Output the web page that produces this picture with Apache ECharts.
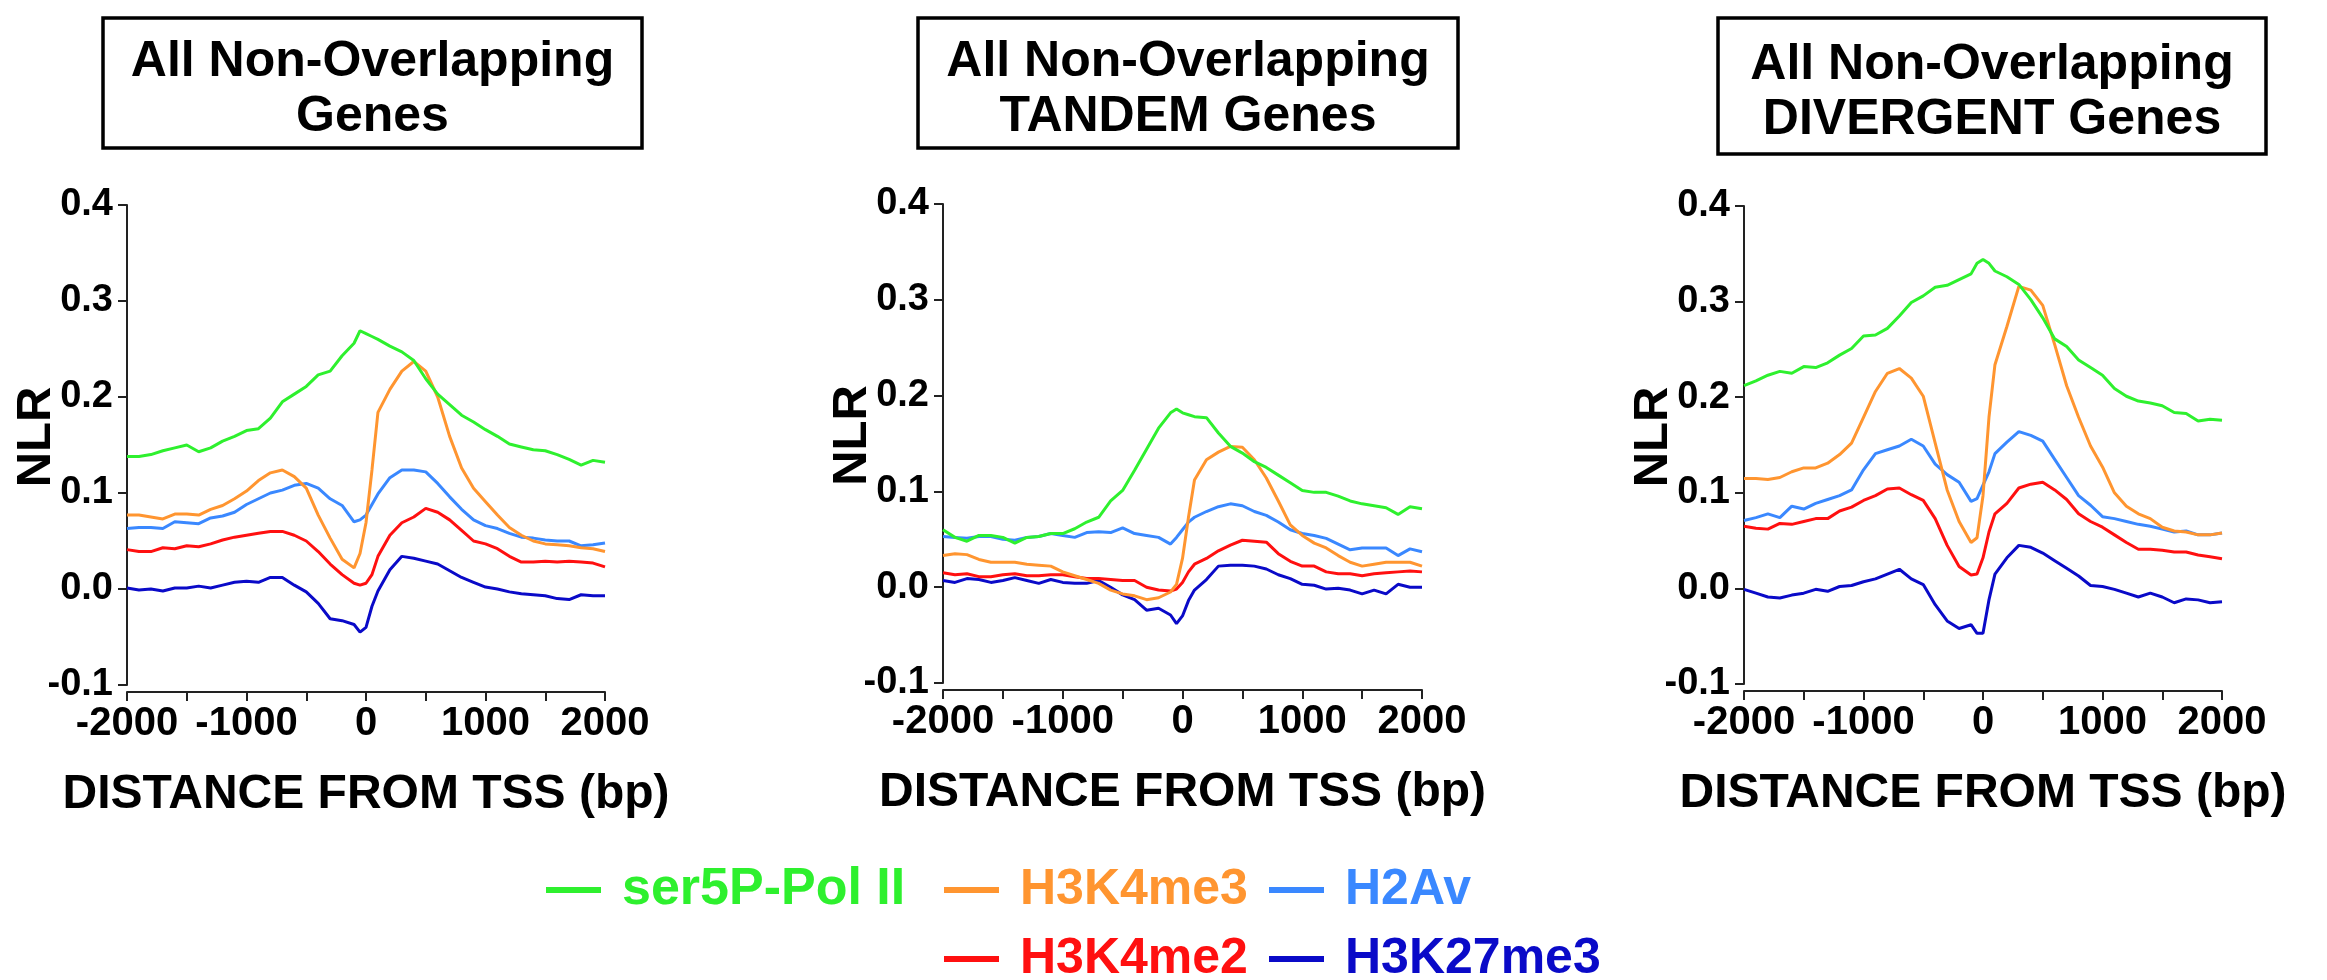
<!DOCTYPE html>
<html>
<head>
<meta charset="utf-8">
<script src="https://cdn.jsdelivr.net/npm/echarts@6/dist/echarts.min.js"></script>
<style>
  html, body { margin: 0; padding: 0; background: #fff; }
  #main { width: 2327px; height: 980px; }
</style>
</head>
<body>
<div id="main"></div>
<script>
// distance from TSS (bp), shared by all curves
const X = [-2000, -1900, -1800, -1700, -1600, -1500, -1400, -1300, -1200, -1100,
  -1000, -900, -800, -700, -600, -500, -400, -300, -200, -100, -50, 0, 50,
  100, 200, 300, 400, 500, 600, 700, 800, 900, 1000, 1100, 1200, 1300, 1400,
  1500, 1600, 1700, 1800, 1900, 2000];

const NAMES = ['ser5P-Pol II', 'H3K4me3', 'H2Av', 'H3K4me2', 'H3K27me3'];
const COLORS = ['#2ef02e', '#ff9530', '#3a88ff', '#ff1010', '#0a0ac8'];
const PANEL_TITLES = [
  'All Non-Overlapping\nGenes',
  'All Non-Overlapping\nTANDEM Genes',
  'All Non-Overlapping\nDIVERGENT Genes'
];
const X_LABELS = [-2000, -1000, 0, 1000, 2000];

// --- All non-overlapping genes
const allPol2 = [0.138, 0.138, 0.140, 0.144, 0.147, 0.150, 0.143, 0.147, 0.154, 0.159,
  0.165, 0.167, 0.178, 0.195, 0.203, 0.211, 0.223, 0.227, 0.243, 0.256, 0.269, 0.266, 0.263,
  0.260, 0.253, 0.247, 0.238, 0.219, 0.203, 0.192, 0.181, 0.174, 0.166, 0.159, 0.151, 0.148, 0.145,
  0.144, 0.140, 0.135, 0.129, 0.134, 0.132];
const allMe3 = [0.077, 0.077, 0.075, 0.073, 0.078, 0.078, 0.077, 0.083, 0.087, 0.094,
  0.102, 0.113, 0.121, 0.124, 0.117, 0.105, 0.077, 0.053, 0.031, 0.022, 0.037, 0.069, 0.124,
  0.184, 0.208, 0.227, 0.237, 0.227, 0.200, 0.159, 0.126, 0.105, 0.091, 0.077, 0.064, 0.056, 0.050,
  0.047, 0.046, 0.045, 0.043, 0.042, 0.039];
const allH2Av = [0.063, 0.064, 0.064, 0.063, 0.070, 0.069, 0.068, 0.074, 0.076, 0.080,
  0.088, 0.094, 0.100, 0.103, 0.108, 0.110, 0.105, 0.094, 0.087, 0.070, 0.072, 0.077, 0.088,
  0.099, 0.116, 0.124, 0.124, 0.122, 0.110, 0.096, 0.083, 0.072, 0.066, 0.063, 0.058, 0.054, 0.053,
  0.051, 0.050, 0.050, 0.045, 0.046, 0.048];
const allMe2 = [0.041, 0.039, 0.039, 0.043, 0.042, 0.045, 0.044, 0.047, 0.051, 0.054,
  0.056, 0.058, 0.060, 0.060, 0.056, 0.050, 0.039, 0.026, 0.015, 0.006, 0.004, 0.006, 0.015,
  0.034, 0.056, 0.069, 0.075, 0.084, 0.080, 0.072, 0.061, 0.050, 0.047, 0.042, 0.034, 0.028, 0.028,
  0.029, 0.028, 0.029, 0.028, 0.027, 0.023];
const allK27 = [0.001, -0.001, 0.000, -0.002, 0.001, 0.001, 0.003, 0.001, 0.004, 0.007,
  0.008, 0.007, 0.012, 0.012, 0.004, -0.003, -0.015, -0.031, -0.033, -0.037, -0.045, -0.040, -0.018,
  -0.002, 0.020, 0.034, 0.032, 0.029, 0.026, 0.019, 0.012, 0.007, 0.002, 0.000, -0.003, -0.005, -0.006,
  -0.007, -0.010, -0.011, -0.006, -0.007, -0.007];

// --- tandem genes
const tanPol2 = [0.060, 0.052, 0.048, 0.054, 0.054, 0.052, 0.046, 0.052, 0.053, 0.056,
  0.056, 0.061, 0.068, 0.073, 0.090, 0.101, 0.122, 0.144, 0.166, 0.182, 0.186, 0.182, 0.180,
  0.178, 0.177, 0.161, 0.147, 0.140, 0.131, 0.125, 0.117, 0.109, 0.101, 0.099, 0.099, 0.095, 0.090,
  0.087, 0.085, 0.083, 0.076, 0.084, 0.082];
const tanMe3 = [0.033, 0.035, 0.034, 0.029, 0.026, 0.026, 0.026, 0.024, 0.023, 0.022,
  0.016, 0.012, 0.008, 0.004, -0.003, -0.007, -0.009, -0.013, -0.011, -0.005, 0.003, 0.030, 0.073,
  0.112, 0.133, 0.141, 0.147, 0.146, 0.133, 0.114, 0.090, 0.065, 0.054, 0.046, 0.041, 0.033, 0.026,
  0.022, 0.024, 0.026, 0.026, 0.026, 0.022];
const tanH2Av = [0.053, 0.052, 0.051, 0.053, 0.053, 0.050, 0.049, 0.052, 0.053, 0.056,
  0.054, 0.052, 0.057, 0.058, 0.057, 0.062, 0.056, 0.054, 0.052, 0.045, 0.052, 0.060, 0.068,
  0.073, 0.079, 0.084, 0.087, 0.085, 0.079, 0.075, 0.068, 0.060, 0.056, 0.054, 0.051, 0.045, 0.039,
  0.041, 0.041, 0.041, 0.033, 0.040, 0.037];
const tanMe2 = [0.015, 0.013, 0.014, 0.011, 0.011, 0.013, 0.014, 0.012, 0.012, 0.013,
  0.013, 0.011, 0.009, 0.009, 0.008, 0.007, 0.007, 0.000, -0.003, -0.004, -0.002, 0.005, 0.016,
  0.024, 0.030, 0.038, 0.044, 0.049, 0.048, 0.047, 0.035, 0.027, 0.022, 0.022, 0.016, 0.014, 0.014,
  0.012, 0.014, 0.015, 0.016, 0.017, 0.016];
const tanK27 = [0.007, 0.005, 0.009, 0.008, 0.005, 0.007, 0.010, 0.007, 0.004, 0.008,
  0.005, 0.004, 0.004, 0.007, 0.000, -0.008, -0.013, -0.024, -0.022, -0.029, -0.038, -0.030, -0.014,
  -0.003, 0.008, 0.022, 0.023, 0.023, 0.022, 0.019, 0.013, 0.009, 0.003, 0.002, -0.002, -0.001, -0.003,
  -0.007, -0.003, -0.007, 0.003, 0.000, 0.000];

// --- divergent genes
const divPol2 = [0.212, 0.217, 0.223, 0.227, 0.225, 0.232, 0.231, 0.236, 0.244, 0.251,
  0.264, 0.265, 0.272, 0.285, 0.299, 0.306, 0.315, 0.317, 0.323, 0.329, 0.340, 0.344, 0.340,
  0.332, 0.326, 0.318, 0.302, 0.283, 0.261, 0.253, 0.239, 0.231, 0.223, 0.209, 0.201, 0.196, 0.194,
  0.191, 0.184, 0.183, 0.175, 0.177, 0.176];
const divMe3 = [0.115, 0.115, 0.114, 0.116, 0.122, 0.126, 0.126, 0.131, 0.140, 0.152,
  0.179, 0.206, 0.225, 0.230, 0.220, 0.201, 0.152, 0.103, 0.070, 0.048, 0.053, 0.097, 0.179,
  0.234, 0.274, 0.316, 0.312, 0.296, 0.255, 0.212, 0.179, 0.149, 0.127, 0.100, 0.086, 0.078, 0.073,
  0.064, 0.060, 0.059, 0.056, 0.056, 0.058];
const divH2Av = [0.071, 0.074, 0.078, 0.074, 0.086, 0.083, 0.089, 0.093, 0.097, 0.103,
  0.124, 0.141, 0.145, 0.149, 0.156, 0.149, 0.130, 0.119, 0.111, 0.091, 0.094, 0.108, 0.122,
  0.141, 0.153, 0.164, 0.160, 0.154, 0.135, 0.116, 0.097, 0.087, 0.075, 0.073, 0.070, 0.067, 0.065,
  0.062, 0.059, 0.060, 0.056, 0.056, 0.058];
const divMe2 = [0.065, 0.063, 0.062, 0.068, 0.067, 0.070, 0.073, 0.073, 0.081, 0.085,
  0.092, 0.097, 0.104, 0.105, 0.098, 0.092, 0.073, 0.045, 0.023, 0.014, 0.015, 0.032, 0.059,
  0.078, 0.089, 0.105, 0.109, 0.111, 0.103, 0.093, 0.078, 0.070, 0.064, 0.056, 0.048, 0.041, 0.041,
  0.040, 0.038, 0.038, 0.035, 0.033, 0.031];
const divK27 = [-0.001, -0.005, -0.009, -0.010, -0.007, -0.005, -0.001, -0.003, 0.002, 0.003,
  0.007, 0.010, 0.015, 0.020, 0.010, 0.004, -0.017, -0.034, -0.042, -0.038, -0.047, -0.047, -0.012,
  0.015, 0.032, 0.045, 0.043, 0.037, 0.029, 0.021, 0.013, 0.003, 0.002, -0.001, -0.005, -0.009, -0.005,
  -0.009, -0.015, -0.011, -0.012, -0.015, -0.014];

const PANELS = [
  [allPol2, allMe3, allH2Av, allMe2, allK27],
  [tanPol2, tanMe3, tanH2Av, tanMe2, tanK27],
  [divPol2, divMe3, divH2Av, divMe2, divK27]
];

// plot boxes
const grids = [
  { left: 127, top: 205, width: 478, height: 480, outerBoundsMode: 'none' },
  { left: 943, top: 204, width: 479, height: 479, outerBoundsMode: 'none' },
  { left: 1744, top: 206, width: 478, height: 478, outerBoundsMode: 'none' }
];
const boxes = [
  { x: 103, y: 18, w: 539, h: 130 },
  { x: 918, y: 18, w: 540, h: 130 },
  { x: 1718, y: 18, w: 548, h: 136 }
];

const FONT = '"Liberation Sans", Arial, sans-serif';
const axisCol = '#222';

const xAxes = grids.map((g, i) => ({
  type: 'value', gridIndex: i, min: -2000, max: 2000, interval: 500,
  offset: 7,
  axisLine: { onZero: false, lineStyle: { color: axisCol, width: 2 } },
  axisTick: { length: 9, lineStyle: { color: axisCol, width: 2 } },
  splitLine: { show: false },
  axisLabel: {
    margin: 12, color: '#000', fontSize: 40, fontWeight: 'bold', fontFamily: FONT,
    formatter: v => X_LABELS.indexOf(v) >= 0 ? String(v) : ''
  },
  name: 'DISTANCE FROM TSS (bp)', nameLocation: 'middle', nameGap: 79,
  nameMoveOverlap: false,
  nameTextStyle: { color: '#000', fontSize: 48, fontWeight: 'bold', fontFamily: FONT }
}));

const yAxes = grids.map((g, i) => ({
  type: 'value', gridIndex: i, min: -0.1, max: 0.4, interval: 0.1,
  axisLine: { show: true, onZero: false, lineStyle: { color: axisCol, width: 2 } },
  axisTick: { show: true, length: 9, lineStyle: { color: axisCol, width: 2 } },
  splitLine: { show: false },
  axisLabel: {
    margin: 14, color: '#000', fontSize: 38, fontWeight: 'bold', fontFamily: FONT,
    formatter: v => v.toFixed(1)
  },
  name: 'NLR', nameLocation: 'middle', nameGap: 66,
  nameMoveOverlap: false,
  nameTextStyle: {
    color: '#000', fontSize: 49, fontWeight: 'bold', fontFamily: FONT,
    padding: [0, 0, 0, 16]
  }
}));

const series = [];
PANELS.forEach((panel, p) => {
  panel.forEach((vals, k) => {
    series.push({
      type: 'line', name: NAMES[k], xAxisIndex: p, yAxisIndex: p,
      data: X.map((x, j) => [x, vals[j]]),
      showSymbol: false, smooth: false, animation: false,
      lineStyle: { color: COLORS[k], width: 3 },
      itemStyle: { color: COLORS[k] },
      z: 10 - k
    });
  });
});

// one legend per entry so they sit where the original puts them
const legendSpots = [
  { left: 546, top: 890 }, { left: 944, top: 890 }, { left: 1269, top: 890 },
  { left: 944, top: 959 }, { left: 1269, top: 959 }
];
const legends = NAMES.map((n, k) => ({
  data: [n], left: legendSpots[k].left, top: legendSpots[k].top - 28,
  orient: 'horizontal', padding: 0, icon: 'rect', itemWidth: 55, itemHeight: 6,
  selectedMode: false,
  textStyle: {
    color: COLORS[k], fontSize: k === 0 ? 52 : 50, fontWeight: 'bold', fontFamily: FONT,
    lineHeight: 56, padding: [0, 0, 0, 16]
  }
}));

const graphics = [];
boxes.forEach((b, i) => {
  graphics.push({
    type: 'rect', shape: { x: b.x, y: b.y, width: b.w, height: b.h },
    style: { fill: 'none', stroke: '#000', lineWidth: 3.5 }
  });
  graphics.push({
    type: 'text', x: b.x + b.w / 2, y: b.y + b.h / 2 + 7,
    style: {
      text: PANEL_TITLES[i], fill: '#000', align: 'center', verticalAlign: 'middle',
      font: 'bold 50px ' + FONT, lineHeight: 55
    }
  });
});

const chart = echarts.init(document.getElementById('main'), null, { renderer: 'canvas' });
chart.setOption({
  backgroundColor: '#fff',
  animation: false,
  grid: grids,
  xAxis: xAxes,
  yAxis: yAxes,
  legend: legends,
  graphic: graphics,
  series: series
});
</script>
</body>
</html>
